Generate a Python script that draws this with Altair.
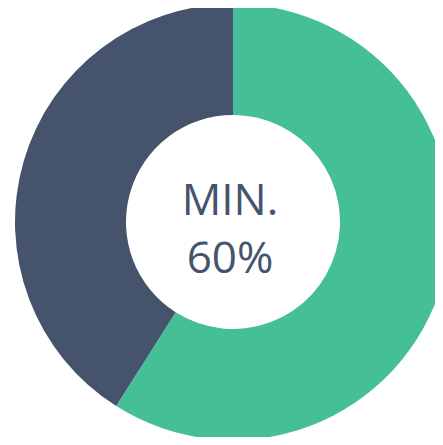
import altair as alt
import pandas as pd

categories = ["Min", "Rest"]
values = [59, 41]
colors = ["#45BF98", "#45546C"]
labels = ["MIN.", "60%"]

df = pd.DataFrame({"category": categories, "value": values, "order": [0, 1]})

cx, cy = 225, 214
tx = 222

arc = alt.Chart(df).mark_arc(innerRadius=107, outerRadius=218).encode(
    theta=alt.Theta("value:Q", stack=True),
    order=alt.Order("order:Q"),
    color=alt.Color("category:N", scale=alt.Scale(domain=categories, range=colors), legend=None),
    x=alt.value(cx),
    y=alt.value(cy),
)

def line(label, ybase):
    return alt.Chart(pd.DataFrame({"label": [label]})).mark_text(
        font="Open Sans", fontSize=44, color="#45546C", align="center", baseline="alphabetic"
    ).encode(text="label:N", x=alt.value(tx), y=alt.value(ybase))

chart = alt.layer(arc, line(labels[0], 207), line(labels[1], 265)).properties(
    width=427, height=429, padding=0, autosize=alt.AutoSizeParams(type="none")
).configure_view(stroke=None)

chart.save("out.html", embed_options={"renderer": "svg", "actions": False})
